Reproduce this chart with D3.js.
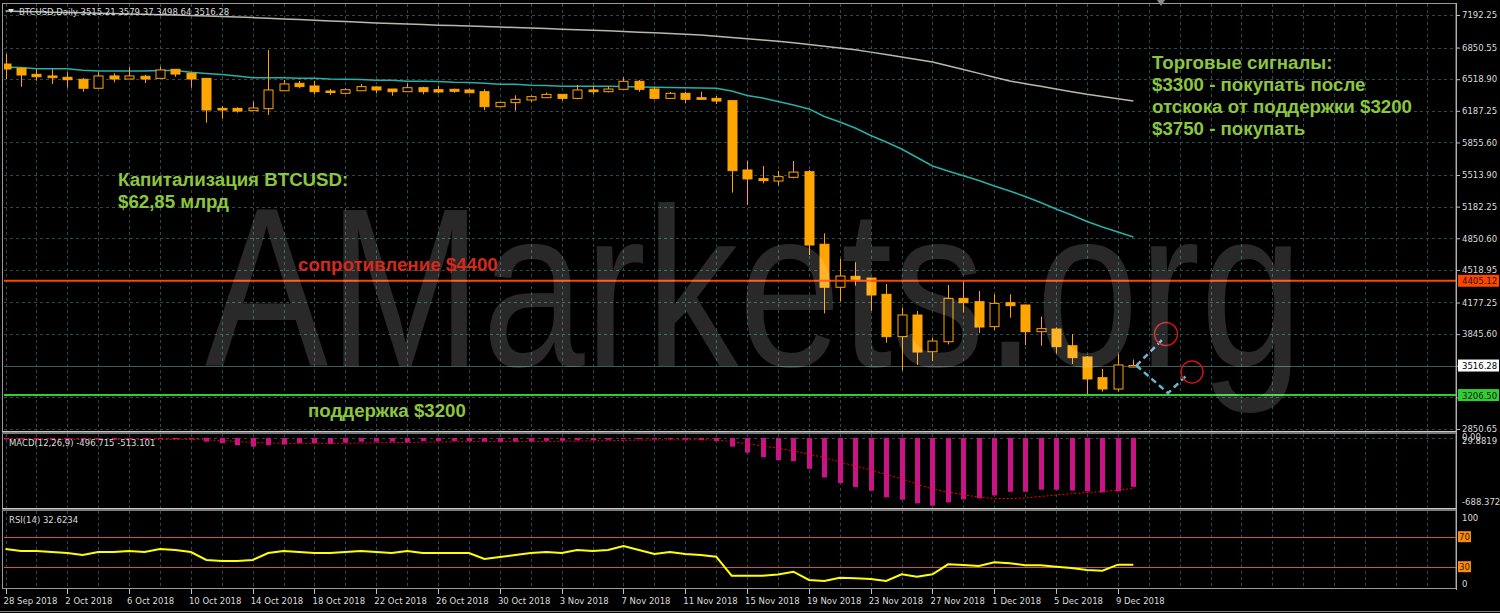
<!DOCTYPE html>
<html><head><meta charset="utf-8">
<script src="https://cdn.jsdelivr.net/npm/d3@7"></script>
<style>body{margin:0;background:#000;overflow:hidden}svg{display:block}</style>
</head><body>
<svg id="c" width="1500" height="613"></svg>
<script>
// ---------- DATA ----------
const startDate = "2018-09-28";
const openP  = [6678,6633,6570,6553,6539,6518,6424,6553,6521,6550,6528,6623,6581,6528,6213,6213,6189,6210,6398,6476,6448,6395,6371,6398,6438,6416,6388,6430,6409,6413,6406,6388,6231,6273,6301,6325,6360,6318,6406,6388,6413,6497,6416,6318,6371,6325,6318,6294,5567,5476,5451,5490,5549,4788,4337,4452,4434,4263,3819,4046,3661,3766,4221,4186,3924,4175,4151,3871,3899,3724,3606,3389,3270,3515.21];
const highP  = [6783,6645,6623,6623,6591,6530,6591,6581,6644,6566,6650,6623,6590,6528,6238,6224,6283,6825,6511,6500,6503,6416,6424,6469,6445,6416,6472,6440,6451,6420,6420,6413,6280,6350,6350,6378,6360,6458,6451,6441,6539,6511,6441,6385,6388,6388,6343,6300,5662,5609,5557,5662,5567,4903,4634,4599,4434,4371,4123,4088,3808,4361,4403,4298,4263,4263,4151,4028,3917,3847,3616,3480,3637,3579.37];
const lowP   = [6521,6440,6503,6469,6430,6388,6424,6486,6521,6479,6528,6545,6430,6063,6105,6168,6189,6144,6398,6424,6361,6353,6361,6398,6371,6346,6388,6361,6371,6377,6377,6196,6231,6189,6280,6325,6294,6308,6361,6381,6406,6388,6308,6318,6266,6308,6259,5329,5200,5427,5406,5479,4675,4064,4186,4354,4091,3756,3462,3522,3564,3738,4074,3857,3889,4018,3731,3724,3644,3532,3207,3242,3242,3498.64];
const closeP = [6626,6563,6545,6535,6514,6424,6553,6521,6553,6521,6616,6573,6521,6196,6196,6185,6217,6406,6469,6441,6388,6382,6409,6441,6406,6388,6430,6388,6385,6392,6377,6231,6276,6308,6336,6360,6318,6406,6388,6416,6497,6413,6318,6371,6308,6308,6290,5560,5473,5455,5497,5545,4780,4337,4455,4420,4256,3819,4046,3658,3773,4221,4175,3920,4168,4144,3871,3903,3714,3599,3375,3270,3522,3516.28];
const maFast = [6644,6642,6629,6629,6628,6612,6605,6605,6605,6605,6609,6610,6591,6579,6568,6553,6535,6535,6534,6528,6528,6521,6518,6516,6507,6507,6497,6497,6495,6486,6484,6476,6465,6465,6455,6453,6444,6444,6444,6444,6442,6437,6434,6432,6429,6427,6424,6395,6348,6322,6285,6248,6207,6128,6070,6007,5929,5860,5787,5698,5609,5556,5507,5457,5399,5347,5289,5226,5158,5095,5027,4969,4917,4864];
const maSlow = [7234,7230,7226,7222,7219,7215,7211,7207,7203,7199,7195,7191,7186,7181,7177,7172,7165,7158,7151,7144,7137,7130,7123,7116,7109,7102,7097,7092,7086,7081,7076,7071,7066,7060,7055,7050,7044,7038,7032,7026,7020,7012,7005,6997,6990,6982,6970,6957,6944,6930,6917,6900,6882,6864,6846,6828,6803,6777,6751,6726,6700,6660,6620,6580,6540,6500,6472,6444,6416,6388,6360,6337,6313,6290];
const macdMain = [-14,-15,-16,-17,-17,-20,-19,-18,-16,-15,-10,-12,-15,-38,-54,-74,-88,-74,-68,-54,-54,-61,-48,-38,-38,-38,-44,-31,-31,-31,-31,-38,-40,-38,-34,-30,-29,-25,-22,-19,-12,-12,-16,-15,-18,-20,-31,-88,-149,-196,-226,-236,-314,-402,-459,-499,-537,-604,-628,-665,-688.372,-655,-625,-614,-584,-547,-547,-526,-526,-534,-544,-554,-544,-496.715];
const macdSignal = [-12,-13,-14,-14,-15,-16,-16,-17,-17,-16,-15,-15,-15,-20,-27,-36,-46,-52,-55,-55,-55,-56,-55,-52,-49,-47,-46,-43,-41,-39,-37,-37,-38,-38,-37,-36,-34,-32,-30,-28,-25,-22,-21,-20,-19,-19,-21,-38,-60,-80,-105,-132,-165,-200,-245,-285,-324,-370,-415,-470,-519,-550,-577,-600,-615,-616,-610,-595,-580,-566,-554,-545,-530,-513.101];
const rsiVals = [53.6,51,51,49.6,48.3,45.6,49.6,49.6,51,49.6,53.6,52.3,49.6,39,37.6,37.6,39,48.3,51,49.6,48.3,48.3,49.6,51,49.6,48.3,51,48.3,48.3,48.3,48.3,40.3,43,45.6,48.3,49.6,48.3,52.3,51,52.3,57.6,52.3,46.9,49.6,46.9,45.6,43.3,18,18,18,19.6,23.3,12.3,10.9,15.3,14.5,13.6,10.9,19.9,16.7,19.9,33.2,32.3,30.9,35.9,34.5,31.9,31.9,30,28.3,25.6,24.7,32.7,32.6234];
const priceTicks = [7192.25,6850.55,6518.90,6187.25,5855.60,5513.90,5182.25,4850.60,4518.95,4177.25,3845.60,3513.95,3182.30,2850.65];
const resistance = 4405.12, support = 3206.50, lastPrice = 3516.28;
const rsiTicks = [100,70,30,0];
const rsiLevels = [70,30];
const macdTickLabels = ["0.00","29.8819","-688.372"];
const dateTickEvery = 4;
const titleText = "BTCUSD,Daily  3515.21 3579.37 3498.64 3516.28";
const macdText = "MACD(12,26,9) -496.715 -513.101";
const rsiText = "RSI(14) 32.6234";
const signalsText = ["Торговые сигналы:","$3300 - покупать после","отскока от поддержки $3200","$3750 - покупать"];
const capText = ["Капитализация BTCUSD:","$62,85 млрд"];
const resText = "сопротивление $4400";
const supText = "поддержка $3200";

// ---------- LAYOUT ----------
const svg = d3.select("#c");
const X0 = 4, X1 = 1456;
const N = closeP.length;
const dates = d3.timeDay.range(new Date(startDate+"T00:00"), d3.timeDay.offset(new Date(startDate+"T00:00"), N));
const x = d3.scaleLinear().domain([0, N-1]).range([5.5, 5.5 + 15.45*(N-1)]);
const y = d3.scaleLinear().domain([2850.65, 7192.25]).range([429, 15]);
const yM = d3.scaleLinear().domain([-688.372, 29.8819]).range([505.7, 435]);
const yR = d3.scaleLinear().domain([0,100]).range([589.2, 514.2]);
const fmt = d3.format(".2f");
const axisFont = "DejaVu Sans";
const annFont = "Liberation Sans, Arial";
const gridCol = "#2c4a4a";

svg.append("rect").attr("width",1500).attr("height",613).attr("fill","#000");
const defs = svg.append("defs");
function clip(id, y0, y1){ defs.append("clipPath").attr("id",id).append("rect").attr("x",X0).attr("y",y0).attr("width",X1-X0).attr("height",y1-y0); }
clip("cm",4,431); clip("cmd",434,508); clip("cr",511,589);

const gMain = svg.append("g").attr("clip-path","url(#cm)");
const gMacd = svg.append("g").attr("clip-path","url(#cmd)");
const gRsi = svg.append("g").attr("clip-path","url(#cr)");

// vertical grid
const gridIdx = d3.range(0, 95, 2);
[[gMain,4,431],[gMacd,434,508],[gRsi,511,589]].forEach(([g,a,b])=>{
  g.selectAll(null).data(gridIdx).join("line")
   .attr("x1",d=>Math.round(x(d))+0.5).attr("x2",d=>Math.round(x(d))+0.5).attr("y1",a).attr("y2",b)
   .attr("stroke",gridCol).attr("stroke-dasharray","3,3");
});
// horizontal grid main
gMain.selectAll(null).data(priceTicks).join("line")
  .attr("x1",X0).attr("x2",X1).attr("y1",d=>Math.round(y(d))+0.5).attr("y2",d=>Math.round(y(d))+0.5)
  .attr("stroke",gridCol).attr("stroke-dasharray","3,3");
gMacd.append("line").attr("x1",X0).attr("x2",X1).attr("y1",Math.round(yM(0))+0.5).attr("y2",Math.round(yM(0))+0.5)
  .attr("stroke",gridCol).attr("stroke-dasharray","3,3");

// current price line
gMain.append("line").attr("x1",X0).attr("x2",X1).attr("y1",Math.round(y(lastPrice))+0.5).attr("y2",Math.round(y(lastPrice))+0.5)
  .attr("stroke","#485858").attr("stroke-width",1);

// moving averages
const lineGen = arr => d3.line().x((d,i)=>x(i)).y(d=>y(d))(arr);
gMain.append("path").attr("d",lineGen(maSlow)).attr("fill","none").attr("stroke","#b8b8b0").attr("stroke-width",1.5);
gMain.append("path").attr("d",lineGen(maFast)).attr("fill","none").attr("stroke","#25b0aa").attr("stroke-width",1.5);

// candles
const cd = d3.range(N).map(i=>({i,o:openP[i],h:highP[i],l:lowP[i],c:closeP[i]}));
const orange = "#ffa500";
gMain.selectAll(null).data(cd).join("line")
  .attr("x1",d=>Math.round(x(d.i))+0.5).attr("x2",d=>Math.round(x(d.i))+0.5)
  .attr("y1",d=>y(d.h)).attr("y2",d=>y(d.l)).attr("stroke",orange).attr("stroke-width",1);
gMain.selectAll(null).data(cd).join("rect")
  .attr("x",d=>Math.round(x(d.i))-4).attr("width",9)
  .attr("y",d=>Math.min(y(d.o),y(d.c))).attr("height",d=>Math.max(1.5,Math.abs(y(d.o)-y(d.c))))
  .attr("fill",d=>d.c>=d.o?"#000":orange).attr("stroke",orange).attr("stroke-width",1);

// support/resistance
gMain.append("line").attr("x1",X0).attr("x2",X1).attr("y1",y(resistance)).attr("y2",y(resistance)).attr("stroke","#ff4500").attr("stroke-width",2);
gMain.append("line").attr("x1",X0).attr("x2",X1).attr("y1",y(support)).attr("y2",y(support)).attr("stroke","#32cd32").attr("stroke-width",2);

// forecast arrows
const arrowCol = "#6bb4d6";
const pA = [x(N-1)+3, y(lastPrice)];
gMain.append("path").attr("d",`M${pA[0]},${pA[1]} L1162,340`).attr("stroke",arrowCol).attr("stroke-width",2.5).attr("stroke-dasharray","6,4").attr("fill","none");
gMain.append("path").attr("d",`M${pA[0]},${pA[1]} L1168,${y(support)-2} L1186,376`).attr("stroke",arrowCol).attr("stroke-width",2.5).attr("stroke-dasharray","6,4").attr("fill","none");
gMain.append("circle").attr("cx",1166).attr("cy",334).attr("r",11.5).attr("fill","none").attr("stroke","#c81414").attr("stroke-width",1.5);
gMain.append("circle").attr("cx",1192).attr("cy",372).attr("r",11).attr("fill","none").attr("stroke","#c81414").attr("stroke-width",1.5);

// watermark (drawn over the marks, semi-transparent, horizontally condensed)
svg.append("text").attr("transform","translate(205,366) scale(0.817,1)")
  .attr("x",0).attr("y",0).attr("font-family",annFont).attr("font-size",226)
  .attr("fill","#fff").attr("fill-opacity",0.16).text("AMarkets.org");

// annotations
const green = "#8cc63f";
const annSize = 18.7;
signalsText.forEach((t,k)=>svg.append("text").attr("x",1152).attr("y",69+k*22).attr("font-family",annFont).attr("font-weight","bold").attr("font-size",annSize).attr("fill",green).text(t));
capText.forEach((t,k)=>svg.append("text").attr("x",118).attr("y",186+k*22).attr("font-family",annFont).attr("font-weight","bold").attr("font-size",annSize).attr("fill",green).text(t));
svg.append("text").attr("x",298).attr("y",271).attr("font-family",annFont).attr("font-weight","bold").attr("font-size",annSize).attr("fill","#d42a1e").text(resText);
svg.append("text").attr("x",308).attr("y",417).attr("font-family",annFont).attr("font-weight","bold").attr("font-size",annSize).attr("fill",green).text(supText);

// MACD
const bw = 5;
gMacd.selectAll(null).data(macdMain).join("rect")
  .attr("x",(d,i)=>Math.round(x(i))-2).attr("width",bw)
  .attr("y",d=>Math.min(yM(0),yM(d))).attr("height",d=>Math.max(0.5,Math.abs(yM(d)-yM(0))))
  .attr("fill","#c71585");
gMacd.append("path").attr("d",d3.line().x((d,i)=>x(i)).y(d=>yM(d))(macdSignal)).attr("fill","none")
  .attr("stroke","#ff0000").attr("stroke-width",1).attr("stroke-dasharray","2,2");

// RSI
rsiLevels.forEach(v=>gRsi.append("line").attr("x1",X0).attr("x2",X1).attr("y1",Math.round(yR(v))+0.5).attr("y2",Math.round(yR(v))+0.5).attr("stroke","#c86400").attr("stroke-width",1));
gRsi.append("path").attr("d",d3.line().x((d,i)=>x(i)).y(d=>yR(d))(rsiVals)).attr("fill","none").attr("stroke","#ffff00").attr("stroke-width",2);

// frames
const frameCol = "#9a9a9a";
svg.append("rect").attr("x",2.5).attr("y",3.5).attr("width",X1-2.5).attr("height",585).attr("fill","none").attr("stroke",frameCol);
[[431,434],[508,511]].forEach(([a,b])=>{
  svg.append("rect").attr("x",2).attr("y",a).attr("width",X1-2).attr("height",b-a).attr("fill","#7a7a7a");
  svg.append("line").attr("x1",2).attr("x2",X1).attr("y1",a+0.5).attr("y2",a+0.5).attr("stroke","#c8c8c8");
});
svg.append("line").attr("x1",X1+0.5).attr("x2",X1+0.5).attr("y1",3).attr("y2",590).attr("stroke","#b0b0b0");
svg.append("line").attr("x1",0).attr("x2",1500).attr("y1",611.5).attr("y2",611.5).attr("stroke","#808080");

// price axis
const axG = svg.append("g").attr("transform",`translate(${X1},0)`);
const axis = d3.axisRight(y).tickValues(priceTicks).tickSize(4).tickFormat(fmt);
axG.call(axis);
axG.select(".domain").remove();
axG.selectAll(".tick line").attr("stroke","#c0c0c0");
axG.selectAll(".tick text").attr("x",6).attr("fill","#dcdcdc").attr("font-family",axisFont).attr("font-size",8.5);

// price tags
function tag(val, bg, fg){
  const yy = y(val);
  svg.append("rect").attr("x",X1+2).attr("y",yy-6).attr("width",41).attr("height",12).attr("fill",bg);
  svg.append("text").attr("x",X1+6).attr("y",yy+3.5).attr("font-family",axisFont).attr("font-size",8.5).attr("fill",fg).text(fmt(val));
}
tag(resistance,"#ff4500","#1a1a1a");
tag(lastPrice,"#ffffff","#000");
tag(support,"#32cd32","#102010");

// macd labels
svg.append("text").attr("x",X1+6).attr("y",440).attr("font-family",axisFont).attr("font-size",8.5).attr("fill","#dcdcdc").text(macdTickLabels[0]);
svg.append("text").attr("x",X1+6).attr("y",444).attr("font-family",axisFont).attr("font-size",8.5).attr("fill","#dcdcdc").text(macdTickLabels[1]);
svg.append("text").attr("x",X1+6).attr("y",505).attr("font-family",axisFont).attr("font-size",8.5).attr("fill","#dcdcdc").text(macdTickLabels[2]);

// rsi labels
rsiTicks.forEach(v=>{
  const yy = v===100?521:(v===0?587:yR(v)+3.5);
  if(v===70||v===30){
    svg.append("rect").attr("x",X1+2).attr("y",yR(v)-5.5).attr("width",13).attr("height",11).attr("fill","#ff8c00");
    svg.append("text").attr("x",X1+3).attr("y",yy).attr("font-family",axisFont).attr("font-size",8.5).attr("fill","#202020").text(v);
  } else {
    svg.append("text").attr("x",X1+6).attr("y",yy).attr("font-family",axisFont).attr("font-size",8.5).attr("fill","#dcdcdc").text(v);
  }
});

// date axis
const dateFmt = d3.timeFormat("%-d %b %Y");
const tIdx = d3.range(0, N, dateTickEvery);
const dAx = svg.append("g");
dAx.selectAll(null).data(tIdx).join("line")
  .attr("x1",d=>Math.round(x(d))+0.5).attr("x2",d=>Math.round(x(d))+0.5).attr("y1",589).attr("y2",594).attr("stroke","#c0c0c0");
dAx.selectAll(null).data(tIdx).join("text")
  .attr("x",d=>x(d)-2).attr("y",604).attr("font-family",axisFont).attr("font-size",8.5).attr("fill","#dcdcdc")
  .text(d=>dateFmt(dates[d]));

// headers
svg.append("path").attr("d","M8,9 L14,9 L11,13 Z").attr("fill","#e0e0e0");
svg.append("text").attr("x",19).attr("y",15).attr("font-family",axisFont).attr("font-size",8.5).attr("fill","#dcdcdc").text(titleText);
svg.append("text").attr("x",9).attr("y",446).attr("font-family",axisFont).attr("font-size",8.5).attr("fill","#dcdcdc").text(macdText);
svg.append("text").attr("x",9).attr("y",523).attr("font-family",axisFont).attr("font-size",8.5).attr("fill","#dcdcdc").text(rsiText);
// chart shift marker
svg.append("path").attr("d","M1157,0 L1165,0 L1161,6 Z").attr("fill","#8a8a8a");
</script>
</body></html>
